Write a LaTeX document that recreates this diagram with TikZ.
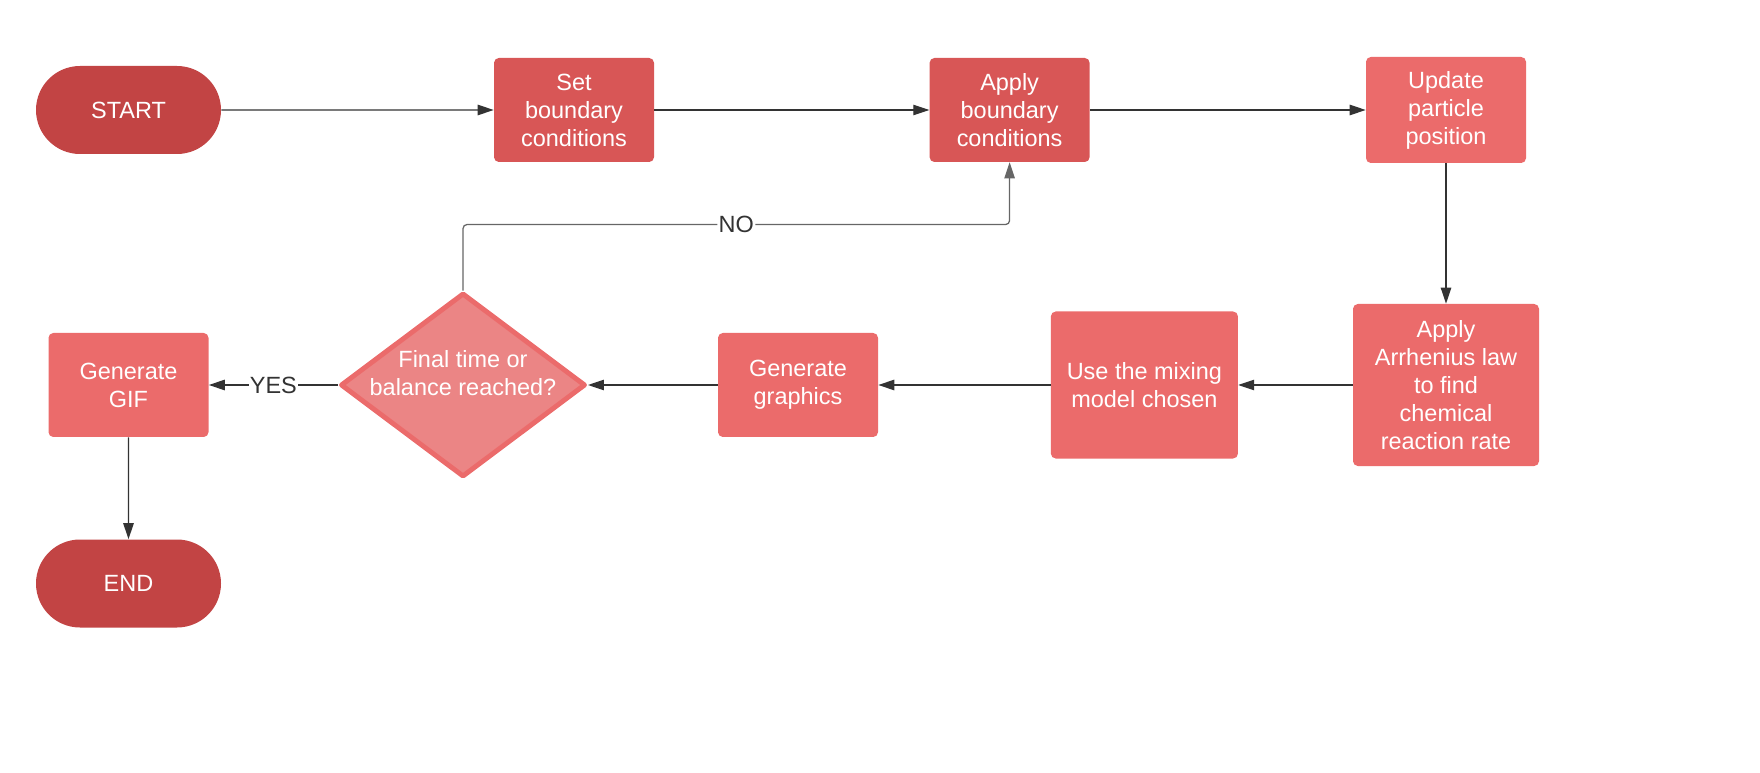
\documentclass[tikz,border=0pt]{standalone}
\usepackage{fontspec}
\setmainfont{Liberation Sans}
\usetikzlibrary{arrows.meta,shapes.geometric,shapes.misc}
\definecolor{termred}{HTML}{C24444}
\definecolor{bcred}{HTML}{D85656}
\definecolor{stepred}{HTML}{EB6B6B}
\definecolor{decred}{HTML}{EB8585}
\definecolor{lineg}{HTML}{333333}
\tikzset{
	term/.style={rounded rectangle, fill=termred, text=white, minimum width=4.625cm, minimum height=2.2cm, inner sep=0},
	box/.style={rectangle, rounded corners=0.12cm, fill=#1, text=white, align=center, inner sep=0},
	box/.default=stepred,
	flow/.style={draw=lineg, line width=0.9pt, -{Triangle[length=0.4cm,width=0.26cm]}},
	lbl/.style={fill=white, text=lineg, inner sep=1pt},
}

\begin{document}
\begin{tikzpicture}[font=\fontsize{16.7}{19.9}\selectfont]
		%%%%% START %%%%%
		\useasboundingbox (0, 0) rectangle (44, -19.325);
		
		% top row
		\node[term] (start) at (3.2125, -2.75) {START};
		\node[box=bcred, minimum width=4cm, minimum height=2.6cm] (setbc) at (14.35, -2.75) {Set\\boundary\\conditions};
		\node[box=bcred, minimum width=4cm, minimum height=2.6cm] (applybc) at (25.24, -2.75) {Apply\\boundary\\conditions};
		\node[box, minimum width=4cm, minimum height=2.65cm] (update) at (36.15, -2.75) {Update\\particle\\position};
		
		% bottom row
		\node[box, minimum width=4.65cm, minimum height=4.05cm] (arrh) at (36.15, -9.625) {Apply\\Arrhenius law\\to find\\chemical\\reaction rate};
		\node[box, minimum width=4.675cm, minimum height=3.675cm] (mix) at (28.61, -9.625) {Use the mixing\\model chosen};
		\node[box, minimum width=4cm, minimum height=2.6cm] (graph) at (19.95, -9.625) {Generate\\graphics};
		\node[diamond, draw=stepred, fill=decred, line width=3.5pt, line join=round, minimum width=6.125cm, minimum height=4.6cm, inner sep=0,
			label={[text=white, align=center, yshift=0.29cm]center:Final time or\\balance reached?}] (dec) at (11.575, -9.625) {};
		\node[box, minimum width=4cm, minimum height=2.6cm] (gif) at (3.2125, -9.625) {Generate\\GIF};
		\node[term] (endn) at (3.2125, -14.5875) {END};
		
		\draw[flow] (start) -- (setbc);
		\draw[flow] (setbc) -- (applybc);
		\draw[flow] (applybc) -- (update);
		\draw[flow] (update) -- (arrh);
		\draw[flow] (arrh) -- (mix);
		\draw[flow] (mix) -- (graph);
		\draw[flow] (graph) -- (dec);
		\draw[flow] (dec) -- node[lbl] {YES} (gif);
		\draw[flow] (gif) -- (endn);
		\draw[flow, draw=gray!80!black, rounded corners=0.1cm] (dec.north) -- ++(0, 1.65) -| (applybc.south) node[lbl, pos=0.25] {NO};
		
		%%%%% END %%%%%
\end{tikzpicture}
\end{document}
